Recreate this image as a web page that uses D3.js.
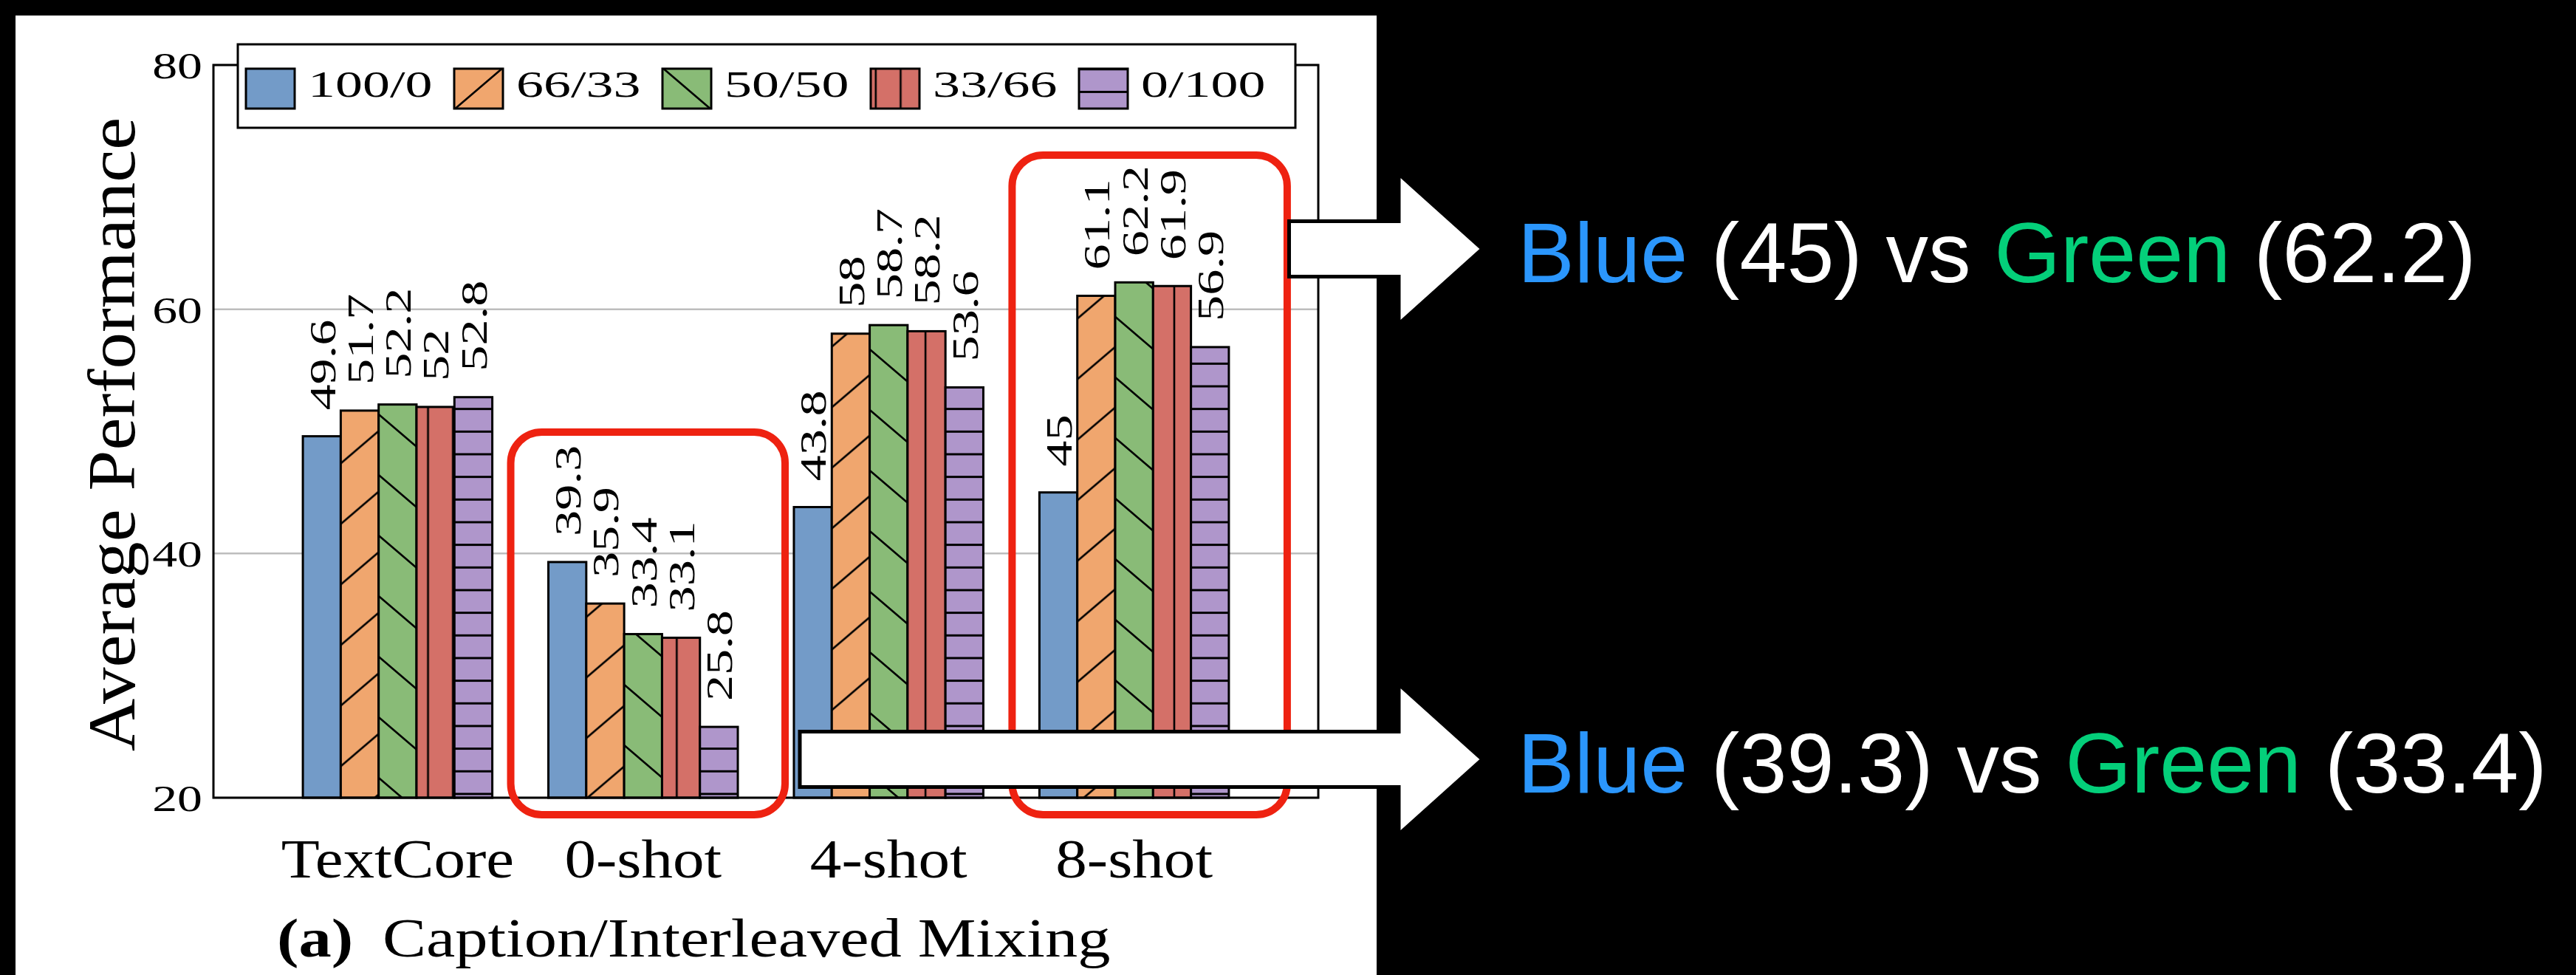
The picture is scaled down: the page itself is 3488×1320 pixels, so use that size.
<!DOCTYPE html>
<html>
<head>
<meta charset="utf-8">
<script src="https://cdn.jsdelivr.net/npm/d3@7"></script>
<style>
  html, body { margin: 0; padding: 0; background: #000; overflow: hidden; }
  svg { display: block; }
</style>
</head>
<body>
<svg id="chart" width="3488" height="1320"></svg>
<script>
// ---- data ----
const categories = ["TextCore", "0-shot", "4-shot", "8-shot"];
const seriesNames = ["100/0", "66/33", "50/50", "33/66", "0/100"];
const values100_0 = [49.6, 39.3, 43.8, 45];
const values66_33 = [51.7, 35.9, 58, 61.1];
const values50_50 = [52.2, 33.4, 58.7, 62.2];
const values33_66 = [52, 33.1, 58.2, 61.9];
const values0_100 = [52.8, 25.8, 53.6, 56.9];
const yTicks = [20, 40, 60, 80];
const yLabel = "Average Performance";
const captionTag = "(a)";
const captionText = "Caption/Interleaved Mixing";
// groups singled out with a box and a call-out comparing blue (100/0) and green (50/50)
const calloutCategories = ["8-shot", "0-shot"];

const seriesValues = [values100_0, values66_33, values50_50, values33_66, values0_100];

// ---- styling ----
const W = 3488, H = 1320;
const serif = "'Liberation Serif', 'Times New Roman', serif";
const sans = "'Liberation Sans', Arial, Helvetica, sans-serif";
const colors = ["#739bc8", "#f0a66e", "#89bb77", "#d47068", "#af96cb"];
const hatchKinds = ["solid", "ne", "nw", "vert", "horiz"];
const red = "#ee2211";

const svg = d3.select("#chart");
const defs = svg.append("defs");

svg.append("rect").attr("width", W).attr("height", H).attr("fill", "#000");
svg.append("rect").attr("x", 21).attr("y", 21).attr("width", 1843).attr("height", H - 21).attr("fill", "#fff");

// ---- scales ----
const plot = { left: 289, right: 1785, top: 88, bottom: 1080 };
const x = d3.scalePoint().domain(categories).range([plot.left, plot.right]).padding(0.75);
const groupWidth = 256.5;
const xs = d3.scaleBand().domain(seriesNames).range([-groupWidth / 2, groupWidth / 2]).padding(0);
const y = d3.scaleLinear().domain([20, 80]).range([plot.bottom, plot.top]);

// ---- hatch patterns ----
function makePattern(id, kind, color, ox, oy) {
  let w = 20, h = 20;
  if (kind === "ne" || kind === "nw") { w = 96; h = 82; }
  if (kind === "vert") { w = 33.68; h = 20; }
  if (kind === "horiz") { w = 20; h = 30.66; }
  const p = defs.append("pattern").attr("id", id)
    .attr("patternUnits", "userSpaceOnUse")
    .attr("width", w).attr("height", h).attr("x", ox).attr("y", oy);
  p.append("rect").attr("width", w).attr("height", h).attr("fill", color);
  const ln = (x1, y1, x2, y2, sw) => p.append("line")
    .attr("x1", x1).attr("y1", y1).attr("x2", x2).attr("y2", y2)
    .attr("stroke", "#000").attr("stroke-width", sw);
  if (kind === "ne") {
    [0, 1, 2].forEach(k => ln(-0.5 * w, h * (k + 0.5), 1.5 * w, h * (k - 1.5), 2.6));
  } else if (kind === "nw") {
    [-1, 0, 1].forEach(k => ln(-0.5 * w, h * (-0.5 - k), 1.5 * w, h * (1.5 - k), 2.6));
  } else if (kind === "vert") {
    ln(w / 2, -1, w / 2, h + 1, 2.6);
  } else if (kind === "horiz") {
    ln(-1, h / 2, w + 1, h / 2, 3);
  }
}
const barPhase = [[0, 0], [0, 37.5], [0, 41], [7 - 33.68 / 2, 0], [0, 1.8 - 30.66 / 2]];
seriesNames.forEach((s, i) => makePattern("bar-pat-" + i, hatchKinds[i], colors[i], barPhase[i][0], barPhase[i][1]));

// ---- grid ----
const grid = svg.append("g");
grid.selectAll("line").data(yTicks).join("line")
  .attr("x1", plot.left).attr("x2", plot.right)
  .attr("y1", d => y(d)).attr("y2", d => y(d))
  .attr("stroke", "#bdbdbd").attr("stroke-width", 2.5);

// ---- bars ----
const bars = svg.append("g");
seriesNames.forEach((s, i) => {
  const rows = categories.map((c, j) => ({ c, v: seriesValues[i][j] }));
  bars.append("g").selectAll("rect").data(rows).join("rect")
    .attr("x", d => x(d.c) + xs(s))
    .attr("width", xs.bandwidth())
    .attr("y", d => y(d.v))
    .attr("height", d => y(20) - y(d.v))
    .attr("fill", `url(#bar-pat-${i})`)
    .attr("stroke", "#000").attr("stroke-width", 3);
});

// ---- value labels ----
const labels = svg.append("g")
  .attr("font-family", serif).attr("font-size", 51).attr("fill", "#000");
seriesNames.forEach((s, i) => {
  const rows = categories.map((c, j) => ({ c, v: seriesValues[i][j] }));
  labels.append("g").selectAll("text").data(rows).join("text")
    .attr("transform", d => `translate(${x(d.c) + xs(s) + xs.bandwidth() / 2},${y(d.v) - 35}) rotate(-90) scale(1.38,1)`)
    .attr("dy", "0.35em")
    .attr("text-anchor", "start")
    .text(d => String(d.v));
});

// ---- frame ----
svg.append("rect")
  .attr("x", plot.left).attr("y", plot.top)
  .attr("width", plot.right - plot.left).attr("height", plot.bottom - plot.top)
  .attr("fill", "none").attr("stroke", "#000").attr("stroke-width", 3);

// ---- y axis tick labels and title ----
svg.append("g").attr("font-family", serif).attr("font-size", 51)
  .selectAll("text").data(yTicks).join("text")
  .attr("transform", d => `translate(274,${y(d)}) scale(1.33,1)`)
  .attr("dy", "0.35em").attr("text-anchor", "end")
  .text(d => d);

svg.append("text")
  .attr("font-family", serif).attr("font-size", 90)
  .attr("transform", `translate(182,${(plot.top + plot.bottom) / 2 + 4}) rotate(-90) scale(1.1,1)`)
  .attr("text-anchor", "middle")
  .text(yLabel);

// ---- x axis labels ----
svg.append("g").attr("font-family", serif).attr("font-size", 74)
  .selectAll("text").data(categories).join("text")
  .attr("transform", d => `translate(${x(d)},1188) scale(1.15,1)`)
  .attr("text-anchor", "middle")
  .text(d => d);

// ---- caption ----
svg.append("text")
  .attr("font-family", serif).attr("font-size", 75).attr("font-weight", "bold")
  .attr("transform", "translate(375,1295) scale(1.18,1)")
  .text(captionTag);
svg.append("text")
  .attr("font-family", serif).attr("font-size", 75)
  .attr("transform", "translate(518,1295) scale(1.18,1)")
  .text(captionText);

// ---- legend ----
const legend = svg.append("g");
legend.append("rect")
  .attr("x", 322).attr("y", 60).attr("width", 1432).attr("height", 113)
  .attr("fill", "#fff").attr("stroke", "#000").attr("stroke-width", 3);
const swW = 66, swH = 54, swY = 93, step = 282, sw0 = 333;
seriesNames.forEach((s, i) => {
  const sx = sw0 + i * step;
  let fill = `url(#bar-pat-${i})`;
  if (hatchKinds[i] === "ne" || hatchKinds[i] === "nw") {
    makePattern("leg-pat-" + i, hatchKinds[i], colors[i], sx + swW / 2, swY + swH / 2);
    fill = `url(#leg-pat-${i})`;
  }
  legend.append("rect")
    .attr("x", sx).attr("y", swY).attr("width", swW).attr("height", swH)
    .attr("fill", fill).attr("stroke", "#000").attr("stroke-width", 3);
  legend.append("text")
    .attr("font-family", serif).attr("font-size", 51)
    .attr("transform", `translate(${sx + 84},131) scale(1.45,1)`)
    .text(s);
});

// ---- highlight boxes ----
const boxSpec = [
  { cat: "0-shot", padL: 51, padR: 64, top: 585 },
  { cat: "8-shot", padL: 37, padR: 79, top: 210 }
];
svg.append("g").selectAll("rect").data(boxSpec).join("rect")
  .attr("x", d => x(d.cat) - groupWidth / 2 - d.padL)
  .attr("y", d => d.top)
  .attr("width", d => groupWidth + d.padL + d.padR)
  .attr("height", d => 1103 - d.top)
  .attr("rx", 42).attr("ry", 42)
  .attr("fill", "none").attr("stroke", red).attr("stroke-width", 10);

// ---- call-out arrows ----
const arrows = [
  { x0: 1745.5, cy: 337, half: 37.5 },
  { x0: 1083, cy: 1028, half: 37.5 }
];
svg.append("g").selectAll("path").data(arrows).join("path")
  .attr("d", d => {
    const hb = 1894, tip = 2007, hh = 101.5;
    return `M${d.x0},${d.cy - d.half} L${hb},${d.cy - d.half} L${hb},${d.cy - hh} L${tip},${d.cy} ` +
           `L${hb},${d.cy + hh} L${hb},${d.cy + d.half} L${d.x0},${d.cy + d.half} Z`;
  })
  .attr("fill", "#fff").attr("stroke", "#000").attr("stroke-width", 5).attr("stroke-linejoin", "miter");

// ---- call-out texts ----
const blueIdx = seriesNames.indexOf("100/0"), greenIdx = seriesNames.indexOf("50/50");
const baselines = [382, 1073];
calloutCategories.forEach((c, k) => {
  const j = categories.indexOf(c);
  const t = svg.append("text")
    .attr("x", 2055).attr("y", baselines[k])
    .attr("font-family", sans).attr("font-size", 115).attr("fill", "#fff");
  t.append("tspan").attr("fill", "#2b96fc").text("Blue");
  t.append("tspan").text(` (${seriesValues[blueIdx][j]}) vs `);
  t.append("tspan").attr("fill", "#04cf7a").text("Green");
  t.append("tspan").text(` (${seriesValues[greenIdx][j]})`);
});
</script>
</body>
</html>
